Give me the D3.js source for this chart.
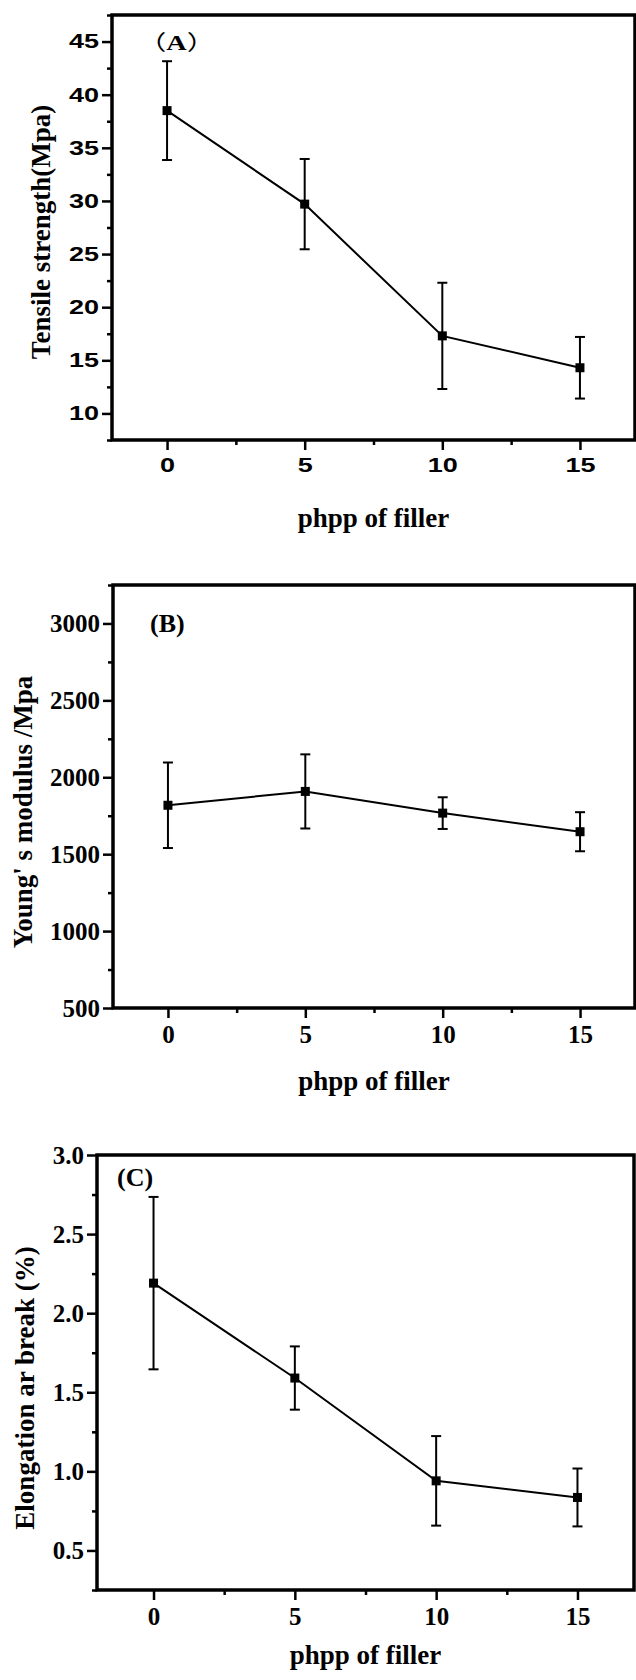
<!DOCTYPE html>
<meta charset="utf-8">
<style>
  body { margin: 0; background: #fff; }
  svg { display: block; }
  .serif { font-family: "Liberation Serif", "Times New Roman", serif; font-weight: bold; }
  .sans { font-family: "Liberation Sans", Arial, sans-serif; font-weight: bold; }
  .cjk { font-family: "Noto Sans CJK SC", sans-serif; font-weight: normal; }
</style>
<svg width="636" height="1680"></svg>
<script src="https://cdn.jsdelivr.net/npm/d3@7/dist/d3.min.js"></script>
<script>

// filler loading (phpp) shared by all three panels
var filler = [0, 5, 10, 15];
var xTicks = [0, 5, 10, 15];

// (A) tensile strength, MPa
var tensile = [38.5, 29.7, 17.3, 14.3];
var tensileErr = [4.65, 4.25, 5.0, 2.9];
var tensileTicks = [10, 15, 20, 25, 30, 35, 40, 45];

// (B) Young's modulus, MPa
var modulus = [1818, 1908, 1767, 1646];
var modulusErr = [278, 241, 103, 127];
var modulusTicks = [500, 1000, 1500, 2000, 2500, 3000];

// (C) elongation at break, %
var elongation = [2.19, 1.59, 0.94, 0.835];
var elongationErr = [0.545, 0.2, 0.283, 0.183];
var elongationTicks = [0.5, 1.0, 1.5, 2.0, 2.5, 3.0];

var svg = d3.select("svg");

var panels = [
  { label: "A", wide: true, labelSize: 21, labelX: 138, labelY: 50,
    left: 112, right: 635, top: 15, bottom: 440,
    yDomain: [7.5, 47.5], ticks: tensileTicks, step: 5, fmt: d3.format("d"),
    sans: true, tickSize: 20, xPad: 8,
    values: tensile, errs: tensileErr,
    yTitle: "Tensile strength(Mpa)", yTitleX: 50, yTitleY: 232, titleY: 527 },
  { label: "B", wide: false, labelSize: 26, labelX: 150, labelY: 632,
    left: 113, right: 635, top: 585, bottom: 1008,
    yDomain: [500, 3250], ticks: modulusTicks, step: 500, fmt: d3.format("d"),
    sans: false, tickSize: 25, xPad: 7,
    values: modulus, errs: modulusErr,
    yTitle: "Young' s modulus /Mpa", yTitleX: 32, yTitleY: 812, titleY: 1090 },
  { label: "C", wide: false, labelSize: 26, labelX: 117, labelY: 1186,
    left: 97, right: 634, top: 1155, bottom: 1590,
    yDomain: [0.25, 3.0], ticks: elongationTicks, step: 0.5, fmt: d3.format(".1f"),
    sans: false, tickSize: 25, xPad: 7,
    values: elongation, errs: elongationErr,
    yTitle: "Elongation ar break (%)", yTitleX: 34, yTitleY: 1388, titleY: 1664 }
];

var stretch = 1.35; // the sans digits and the (A) tag are drawn wide

panels.forEach(function(p) {
  var x = d3.scaleLinear().domain([-2, 17]).range([p.left, p.right]);
  var y = d3.scaleLinear().domain(p.yDomain).range([p.bottom, p.top]);
  var g = svg.append("g");

  // minor ticks sit halfway between the major ones
  var yMinor = p.ticks.map(function(t) { return t - p.step / 2; })
    .concat([p.ticks[p.ticks.length - 1] + p.step / 2])
    .filter(function(t) { return t >= p.yDomain[0] - 1e-9 && t <= p.yDomain[1] + 1e-9; });
  var xMinor = [2.5, 7.5, 12.5];

  var yAxis = g.append("g")
    .attr("transform", "translate(" + p.left + ",0)")
    .call(d3.axisLeft(y).tickValues(p.ticks).tickFormat(p.fmt).tickSize(10).tickPadding(3).tickSizeOuter(0));
  g.append("g")
    .attr("transform", "translate(" + p.left + ",0)")
    .call(d3.axisLeft(y).tickValues(yMinor).tickFormat("").tickSize(5).tickSizeOuter(0));

  var xAxis = g.append("g")
    .attr("transform", "translate(0," + p.bottom + ")")
    .call(d3.axisBottom(x).tickValues(xTicks).tickFormat(d3.format("d")).tickSize(10).tickPadding(p.xPad).tickSizeOuter(0));
  g.append("g")
    .attr("transform", "translate(0," + p.bottom + ")")
    .call(d3.axisBottom(x).tickValues(xMinor).tickFormat("").tickSize(5).tickSizeOuter(0));

  g.selectAll(".domain").remove();
  g.selectAll(".tick line").attr("stroke", "#000").attr("stroke-width", 2.5);
  g.selectAll(".tick text")
    .attr("class", p.sans ? "sans" : "serif")
    .attr("fill", "#000")
    .style("font-size", p.tickSize + "px");

  if (p.sans) {
    yAxis.selectAll(".tick text").attr("x", -13 / stretch).attr("transform", "scale(" + stretch + ",1)");
    xAxis.selectAll(".tick text").attr("transform", "scale(" + stretch + ",1)");
  }

  // frame
  g.append("rect")
    .attr("x", p.left).attr("y", p.top)
    .attr("width", p.right - p.left).attr("height", p.bottom - p.top)
    .attr("fill", "none").attr("stroke", "#000").attr("stroke-width", 3.5);

  var pts = filler.map(function(f, i) { return { x: f, v: p.values[i], e: p.errs[i] }; });

  // error bars
  var eb = g.selectAll(".err").data(pts).enter().append("g").attr("class", "err")
    .attr("stroke", "#000").attr("stroke-width", 2);
  eb.append("line")
    .attr("x1", function(d) { return x(d.x); }).attr("x2", function(d) { return x(d.x); })
    .attr("y1", function(d) { return y(d.v - d.e); }).attr("y2", function(d) { return y(d.v + d.e); });
  eb.append("line")
    .attr("x1", function(d) { return x(d.x) - 5; }).attr("x2", function(d) { return x(d.x) + 5; })
    .attr("y1", function(d) { return y(d.v + d.e); }).attr("y2", function(d) { return y(d.v + d.e); });
  eb.append("line")
    .attr("x1", function(d) { return x(d.x) - 5; }).attr("x2", function(d) { return x(d.x) + 5; })
    .attr("y1", function(d) { return y(d.v - d.e); }).attr("y2", function(d) { return y(d.v - d.e); });

  // connecting line
  g.append("path")
    .datum(pts)
    .attr("fill", "none").attr("stroke", "#000").attr("stroke-width", 2)
    .attr("d", d3.line().x(function(d) { return x(d.x); }).y(function(d) { return y(d.v); }));

  // square markers
  g.selectAll(".pt").data(pts).enter().append("rect")
    .attr("x", function(d) { return x(d.x) - 4.5; })
    .attr("y", function(d) { return y(d.v) - 4.5; })
    .attr("width", 9).attr("height", 9).attr("fill", "#000");

  // panel label
  if (p.wide) {
    var tag = g.append("text").attr("class", "serif")
      .attr("transform", "translate(" + p.labelX + "," + p.labelY + ") scale(" + stretch + ",1)")
      .style("font-size", p.labelSize + "px");
    tag.append("tspan").attr("class", "cjk").text("（");
    tag.append("tspan").text(p.label);
    tag.append("tspan").attr("class", "cjk").text("）");
  } else {
    g.append("text").attr("class", "serif")
      .attr("x", p.labelX).attr("y", p.labelY)
      .style("font-size", p.labelSize + "px")
      .text("(" + p.label + ")");
  }

  // axis titles
  g.append("text").attr("class", "serif")
    .attr("text-anchor", "middle")
    .attr("transform", "translate(" + p.yTitleX + "," + p.yTitleY + ") rotate(-90)")
    .style("font-size", "27px")
    .text(p.yTitle);

  g.append("text").attr("class", "serif")
    .attr("text-anchor", "middle")
    .attr("x", (p.left + p.right) / 2).attr("y", p.titleY)
    .style("font-size", "27px")
    .text("phpp of filler");
});

</script>
